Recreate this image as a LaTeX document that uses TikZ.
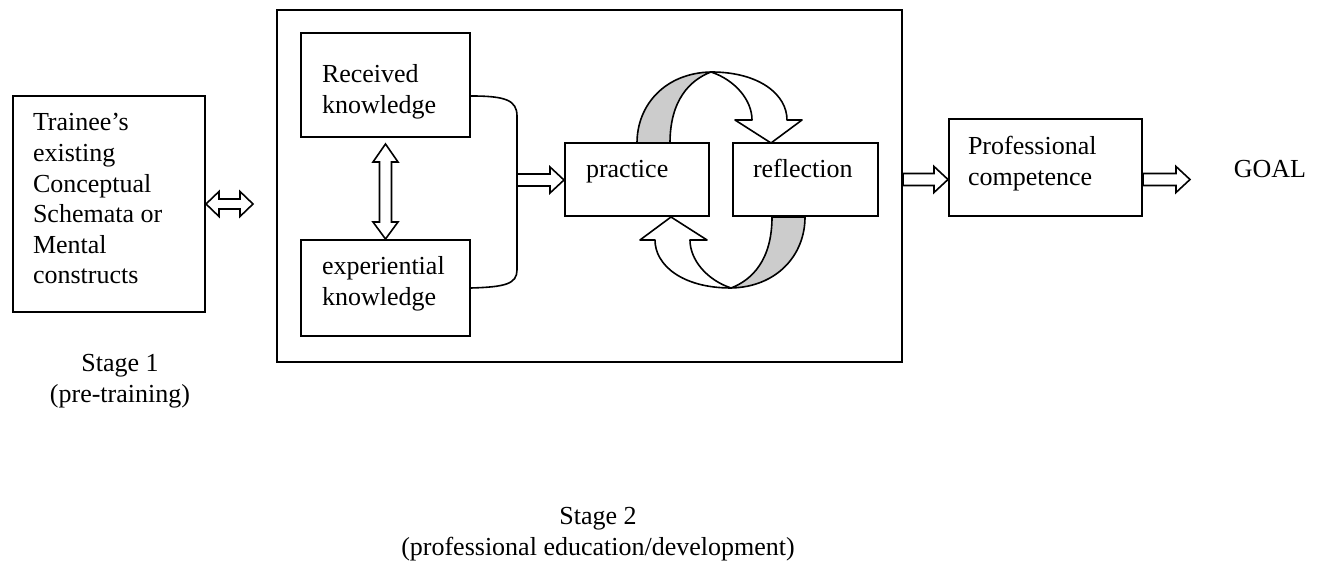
\documentclass[tikz,border=0pt]{standalone}
\usepackage{fontspec}
\setmainfont{Liberation Serif}
\usetikzlibrary{calc}
\definecolor{shade}{gray}{0.8}
\newcommand{\btext}[2]{\makebox[#1][l]{\begin{tabular}[t]{@{}l@{}}#2\end{tabular}}}
\newcommand{\ctext}[1]{\begin{tabular}[t]{@{}c@{}}#1\end{tabular}}
\newcommand{\halfloop}{%
  \draw[loopline, fill=shade] (637,143) .. controls (637,105) and (665,73) .. (711,72)
     .. controls (690,80) and (670,100) .. (670,143) -- cycle;
  \draw[loopline, fill=white] (711,72) .. controls (760,72) and (787,95) .. (787,120)
     -- (802,120) -- (771,143) -- (735,120) -- (752,120)
     .. controls (752,100) and (735,80) .. (711,72) -- cycle;
}
\begin{document}
\begin{tikzpicture}[x=0.5pt,y=-0.5pt,
  every node/.style={font=\fontsize{13}{15.3}\selectfont},
  box/.style={draw, line width=1pt, fill=white, inner sep=0pt},
  loopline/.style={draw, line width=0.8pt, line join=round},
  arrowline/.style={draw, line width=0.8pt, fill=white, line join=miter},
  harrow/.style={arrowline, to path={let \p1=(\tikztostart), \p2=(\tikztotarget) in
     (\x1,\y1+3pt) -- (\x2-7pt,\y1+3pt) -- (\x2-7pt,\y1+6.5pt) -- (\x2,\y1)
     -- (\x2-7pt,\y1-6.5pt) -- (\x2-7pt,\y1-3pt) -- (\x1,\y1-3pt) -- cycle}},
  hdarrow/.style={arrowline, to path={let \p1=(\tikztostart), \p2=(\tikztotarget) in
     (\x1,\y1) -- (\x1+6.5pt,\y1+6.25pt) -- (\x1+6.5pt,\y1+2.5pt) -- (\x2-6.5pt,\y1+2.5pt)
     -- (\x2-6.5pt,\y1+6.25pt) -- (\x2,\y1) -- (\x2-6.5pt,\y1-6.25pt) -- (\x2-6.5pt,\y1-2.5pt)
     -- (\x1+6.5pt,\y1-2.5pt) -- (\x1+6.5pt,\y1-6.25pt) -- cycle}},
  vdarrow/.style={arrowline, to path={let \p1=(\tikztostart), \p2=(\tikztotarget) in
     (\x1,\y1) -- (\x1+6.25pt,\y1-9pt) -- (\x1+3pt,\y1-9pt) -- (\x1+3pt,\y2+8.5pt)
     -- (\x1+6.25pt,\y2+8.5pt) -- (\x1,\y2) -- (\x1-6.25pt,\y2+8.5pt) -- (\x1-3pt,\y2+8.5pt)
     -- (\x1-3pt,\y1-9pt) -- (\x1-6.25pt,\y1-9pt) -- cycle}}
]
\useasboundingbox (0,0) rectangle (1323,565);

% stage 2 frame
\node[box, fill=none, minimum width=312.5pt, minimum height=176pt] (frame) at (589.5,186) {};

% practice / reflection cycle arrows
\halfloop
\begin{scope}[rotate around={180:(721,180)}]
  \halfloop
\end{scope}

% boxes
\node[box, minimum width=96pt, minimum height=108pt, text height=17.5pt, text depth=90.5pt]
  (trainee) at (109,204) {\btext{76pt}{Trainee’s\\existing\\Conceptual\\Schemata or\\Mental\\constructs}};
\node[box, minimum width=84.5pt, minimum height=52pt, text height=25pt, text depth=27pt]
  (rec) at (385.5,85) {\btext{63.5pt}{Received\\knowledge}};
\node[box, minimum width=84.5pt, minimum height=48pt, text height=17.5pt, text depth=30.5pt]
  (exp) at (385.5,288) {\btext{63.5pt}{experiential\\knowledge}};
\node[box, minimum width=72pt, minimum height=36.5pt, text height=17.5pt, text depth=19pt]
  (practice) at (637,179.5) {\btext{51pt}{practice}};
\node[box, minimum width=72.5pt, minimum height=36.5pt, text height=17.5pt, text depth=19pt]
  (refl) at (805.5,179.5) {\btext{52.5pt}{reflection}};
\node[box, minimum width=96.5pt, minimum height=48.5pt, text height=18pt, text depth=30.5pt]
  (prof) at (1045.5,167.5) {\btext{77.5pt}{Professional\\competence}};

% free texts
\node[anchor=base, inner sep=0pt] (goal) at (1270,178) {GOAL};
\node[anchor=base, inner sep=0pt] (stage1) at (120,372) {\ctext{Stage 1\\(pre-training)}};
\node[anchor=base, inner sep=0pt] (stage2) at (598,525) {\ctext{Stage 2\\(professional education/development)}};

% free connector ends
\coordinate (tt) at (253,204);
\coordinate (brk) at (517,180);
\coordinate (goalin) at (1190,182);

% bracket joining the two kinds of knowledge
\draw[line width=0.8pt] ([yshift=-5.5pt]rec.east) .. controls (505,96) and (517,100) .. (517,116)
  -- (517,270) .. controls (517,284) and (505,287) .. (exp.east);

% block arrows
\draw[hdarrow] (trainee.east) to (tt);
\draw[vdarrow] ([yshift=-3pt]rec.south) to (exp.north);
\draw[harrow] (brk) to (practice.west);
\draw[harrow] (frame.east |- refl.east) to (prof.west |- refl.east);
\draw[harrow] (prof.east |- refl.east) to (goalin);
\end{tikzpicture}
\end{document}
